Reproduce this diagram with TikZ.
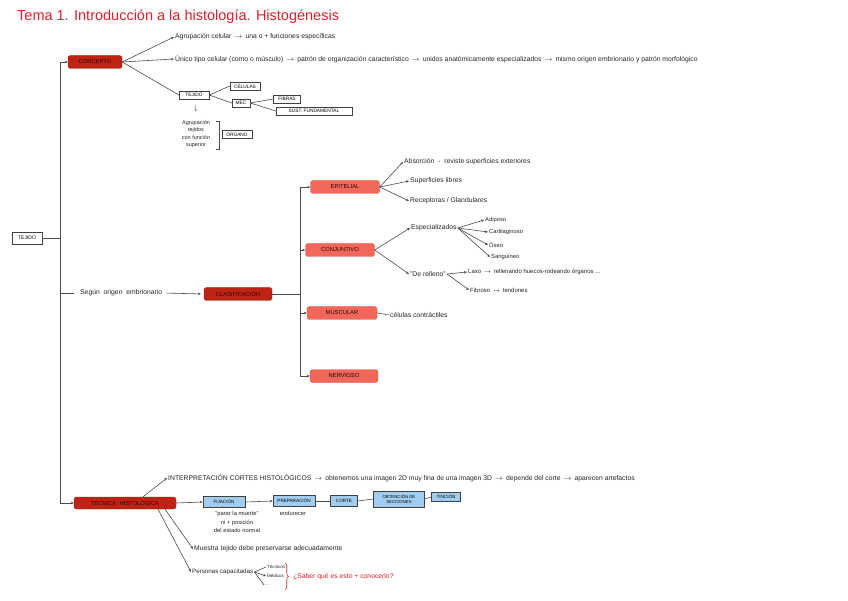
\documentclass[tikz,border=0pt]{standalone}
\usepackage{fontspec}
\setmainfont{Liberation Sans}
\usetikzlibrary{arrows.meta,decorations.pathreplacing}
\definecolor{darkred}{RGB}{190,35,20}
\definecolor{lightred}{RGB}{243,102,90}
\definecolor{lblue}{RGB}{160,205,240}
\definecolor{ttl}{RGB}{222,32,42}
\newcommand{\myar}{\,$\rightarrow$\,}
\begin{document}
\begin{tikzpicture}[x=1pt,y=-1pt,
  txt/.style={font=\fontsize{6.8}{7.5}\selectfont, inner sep=1pt, anchor=west, text=black!85},
  ctxt/.style={txt, anchor=center, align=center},
  dkbox/.style={draw=darkred!85!black, fill=darkred, rounded corners=2.5pt, minimum height=13pt, inner sep=1pt, font=\fontsize{5.8}{6}\selectfont, text=black!75!darkred},
  ltbox/.style={draw=lightred!90!black, fill=lightred, rounded corners=2.5pt, minimum height=13pt, inner sep=1pt, font=\fontsize{5.8}{6}\selectfont, text=black!80!darkred},
  wbox/.style={draw=black!75, fill=white, inner sep=1.2pt, minimum height=8pt, font=\fontsize{4.8}{5.5}\selectfont},
  bbox/.style={draw=black!75, line width=0.8pt, fill=lblue, inner sep=1.2pt, minimum height=11pt, font=\fontsize{4.6}{5}\selectfont, align=center},
  ln/.style={draw=black!70, line width=0.6pt},
  arr/.style={ln, -{Stealth[length=3pt,width=2.6pt]}},
  redc/.style={draw=ttl, line width=0.6pt}
]
\useasboundingbox[fill=white] (0,0) rectangle (848,601);

% title
\node[font=\fontsize{14.5}{16}\selectfont, text=ttl, anchor=west, inner sep=0pt] (title) at (17,17) {Tema 1. Introducción a la histología. Histogénesis};

% root and trunk
\node[wbox, minimum width=30pt, minimum height=12pt, font=\fontsize{5}{6}\selectfont] (tejido) at (27,238) {TEJIDO};
\coordinate (tt) at (60,62);
\coordinate (tm) at (60,238);
\coordinate (tc) at (60,293);
\coordinate (tb) at (60,503);
\draw[ln] (tt) -- (tb);
\draw[ln] (tejido.east) -- (tm);

% CONCEPTO
\node[dkbox, minimum width=54pt] (concepto) at (95,62) {CONCEPTO};
\draw[arr] (tt) -- (concepto.west);
\node[txt] (c1) at (174,37) {Agrupación celular \myar\ una o + funciones específicas};
\node[txt] (c2) at (174,59) {Único tipo celular (como o músculo) \myar\ patrón de organización característico \myar\ unidos anatómicamente especializados \myar\ mismo origen embrionario y patrón morfológico};
\draw[arr] (concepto.east) -- (c1.west);
\draw[arr] (concepto.east) -- (c2.west);

\node[wbox, minimum width=30pt] (tej2) at (194,95) {TEJIDO};
\node[wbox, minimum width=30pt] (cel) at (245,86) {CÉLULAS};
\node[wbox, minimum width=18pt] (mec) at (241,103) {MEC};
\node[wbox, minimum width=27pt] (fib) at (287,99) {FIBRAS};
\node[wbox, minimum width=76pt] (sust) at (314,111) {SUST. FUNDAMENTAL};
\draw[ln] (concepto.east) -- (tej2.west);
\draw[ln] (tej2.east) -- (cel.west);
\draw[ln] (tej2.east) -- (mec.west);
\draw[ln] (mec.east) -- (fib.west);
\draw[ln] (mec.east) -- (sust.west);

\node[ctxt] (dn) at (196,109) {$\downarrow$};
\node[ctxt, font=\fontsize{5.5}{7.5}\selectfont] (agr) at (196,134) {Agrupación\\tejidos\\con función\\superior};
\coordinate (bk1) at (216,121);
\coordinate (bk2) at (219,121);
\coordinate (bk3) at (219,149);
\coordinate (bk4) at (216,149);
\draw[ln] (bk1) -- (bk2) -- (bk3) -- (bk4);
\node[wbox, minimum width=30pt] (organo) at (237,134) {ÓRGANO};

% CLASIFICACION
\node[txt] (segun) at (79,293) {Según \ origen \ embrionario};
\draw[ln, shorten >=5pt] (tc) -- (segun.west);
\node[dkbox, minimum width=68pt] (clasif) at (238,294) {CLASIFICACIÓN};
\draw[arr, shorten <=3pt, shorten >=3pt] (segun.east) -- (clasif.west);
\coordinate (cvm) at (300,294);
\coordinate (cv1) at (300,187);
\coordinate (cv2) at (300,250);
\coordinate (cv3) at (300,313);
\coordinate (cv4) at (300,376);
\draw[ln] (clasif.east) -- (cvm);
\draw[ln] (cv1) -- (cv4);

\node[ltbox, minimum width=69pt] (epit) at (345,187) {EPITELIAL};
\node[ltbox, minimum width=69pt] (conj) at (340,250) {CONJUNTIVO};
\node[ltbox, minimum width=70pt] (musc) at (342,313) {MUSCULAR};
\node[ltbox, minimum width=68pt] (nerv) at (344,376) {NERVIOSO};
\draw[arr] (cv1) -- (epit.west);
\draw[arr] (cv2) -- (conj.west);
\draw[arr] (cv3) -- (musc.west);
\draw[arr] (cv4) -- (nerv.west);

% epitelial
\node[txt] (e1) at (403,162) {Absorción \ - \ reviste superficies exteriores};
\node[txt] (e2) at (409,181) {Superficies libres};
\node[txt] (e3) at (409,201) {Receptoras / Glandulares};
\draw[arr] (epit.east) -- (e1.west);
\draw[arr] (epit.east) -- (e2.west);
\draw[arr] (epit.east) -- (e3.west);

% conjuntivo
\node[txt] (k1) at (410,228) {Especializados};
\node[txt, font=\fontsize{5.8}{6}\selectfont] (k1a) at (484,220) {Adiposo};
\node[txt, font=\fontsize{5.8}{6}\selectfont] (k1b) at (488,232) {Cartilaginoso};
\node[txt, font=\fontsize{5.8}{6}\selectfont] (k1c) at (488,245) {Óseo};
\node[txt, font=\fontsize{5.8}{6}\selectfont] (k1d) at (490,257) {Sanguíneo};
\draw[arr] (conj.east) -- (k1.west);
\draw[arr] (k1.east) -- (k1a.west);
\draw[arr] (k1.east) -- (k1b.west);
\draw[arr] (k1.east) -- (k1c.west);
\draw[arr] (k1.east) -- (k1d.west);
\node[txt] (k2) at (409,274) {"De relleno"};
\node[txt, font=\fontsize{6}{6.5}\selectfont] (k2a) at (467,272) {Laxo \myar\ rellenando huecos-rodeando órganos ...};
\node[txt, font=\fontsize{6}{6.5}\selectfont] (k2b) at (469,290) {Fibroso \myar\ tendones};
\draw[arr] (conj.east) -- (k2.west);
\draw[arr] (k2.east) -- (k2a.west);
\draw[arr] (k2.east) -- (k2b.west);

% muscular
\node[txt] (m1) at (389,315) {células contráctiles};
\draw[ln] (musc.east) -- (m1.west);

% TECNICA HISTOLOGICA
\node[dkbox, minimum width=102pt, minimum height=12pt] (tec) at (125,503) {TÉCNICA \ HISTOLÓGICA};
\draw[arr] (tb) -- (tec.west);
\node[txt] (i1) at (167,478) {INTERPRETACIÓN CORTES HISTOLÓGICOS \myar\ obtenemos una imagen 2D muy fina de una imagen 3D \myar\ depende del corte \myar\ aparecen artefactos};
\draw[arr] ([xshift=18pt]tec.north) -- (i1.west);

\node[bbox, minimum width=42pt] (fij) at (224,502) {FIJACIÓN};
\node[bbox, minimum width=42pt] (prep) at (294,501) {PREPARACIÓN};
\node[bbox, minimum width=27pt] (corte) at (344,501) {CORTE};
\node[bbox, minimum width=51pt, minimum height=16pt, font=\fontsize{4.3}{4.8}\selectfont] (obt) at (399,499) {OBTENCIÓN DE\\SECCIONES};
\node[bbox, minimum width=29pt, minimum height=9pt] (tin) at (446,497) {TINCIÓN};
\draw[arr] (tec.east) -- (fij.west);
\draw[arr] (fij.east) -- (prep.west);
\draw[ln] (prep.east) -- (corte.west);
\draw[ln] (corte.east) -- (obt.west);
\draw[ln] (obt.east) -- (tin.west);
\node[ctxt, font=\fontsize{5.8}{8.5}\selectfont] (fn) at (237,522) {"parar la muerte"\\ni + posición\\del estado normal};
\node[ctxt, font=\fontsize{5.8}{6}\selectfont] (pn) at (293,513) {endurecer};

\node[txt] (mu) at (193,549) {Muestra tejido debe preservarse adecuadamente};
\draw[arr] ([xshift=40pt]tec.south) -- (mu.west);
\node[txt, font=\fontsize{6.2}{7}\selectfont] (pc) at (191,572) {Personas capacitadas};
\draw[arr] ([xshift=33pt]tec.south) -- (pc.west);
\node[txt, font=\fontsize{4.5}{5}\selectfont] (p1) at (266,567) {Técnicos};
\node[txt, font=\fontsize{4.5}{5}\selectfont] (p2) at (266,576) {Médicos};
\node[txt, font=\fontsize{4.5}{5}\selectfont] (p3) at (264,585) {...};
\draw[ln] (pc.east) -- (p1.west);
\draw[arr] (pc.east) -- (p2.west);
\draw[ln] (pc.east) -- (p3.west);
\coordinate (rb1) at (285,563);
\coordinate (rb2) at (285,590);
\draw[redc, decorate, decoration={brace, amplitude=3.5pt}] (rb1) -- (rb2);
\node[txt, text=ttl] (q) at (292,577) {¿Saber qué es esto + conocerlo?};
\end{tikzpicture}
\end{document}
